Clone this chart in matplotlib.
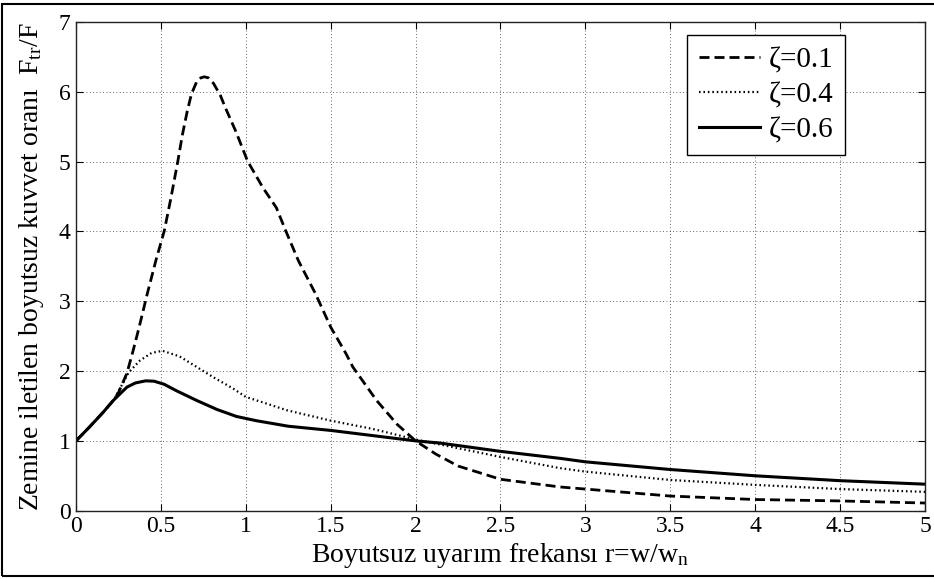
import matplotlib
matplotlib.use("Agg")
import matplotlib.pyplot as plt
from matplotlib.patches import Rectangle

# ---- data ----
x_01 = [0, 0.08, 0.16, 0.22, 0.25, 0.30, 0.335, 0.372, 0.42, 0.47, 0.52, 0.56, 0.60, 0.627,
        0.655, 0.68, 0.71, 0.735, 0.755, 0.78, 0.81, 0.85, 0.88, 0.94, 1.01, 1.10, 1.18, 1.235, 1.31,
        1.41, 1.5, 1.59, 1.63, 1.77, 1.89, 2.0, 2.12, 2.25, 2.5, 2.85, 3.0, 3.5, 4.0, 4.5, 5.0]
y_01 = [1.0, 1.20, 1.41, 1.58, 1.69, 1.97, 2.28, 2.63, 3.11, 3.58, 4.01, 4.49, 5.01, 5.39,
        5.72, 5.97, 6.14, 6.20, 6.215, 6.20, 6.12, 5.95, 5.77, 5.44, 5.01, 4.63, 4.34, 4.01, 3.58,
        3.11, 2.63, 2.25, 2.06, 1.58, 1.24, 1.0, 0.81, 0.64, 0.45, 0.34, 0.31, 0.21, 0.16, 0.14, 0.11]

x_04 = [0, 0.08, 0.16, 0.22, 0.27, 0.31, 0.376, 0.445, 0.51, 0.61, 0.71, 0.81, 0.925,
        1.0, 1.14, 1.24, 1.5, 1.75, 2.0, 2.5, 2.85, 3.0, 3.5, 4.0, 4.5, 5.0]
y_04 = [1.0, 1.20, 1.41, 1.58, 1.80, 1.98, 2.15, 2.26, 2.29, 2.21, 2.06, 1.91, 1.75,
        1.63, 1.52, 1.44, 1.29, 1.17, 1.02, 0.77, 0.61, 0.56, 0.44, 0.37, 0.31, 0.27]

x_06 = [0, 0.08, 0.16, 0.22, 0.30, 0.35, 0.41, 0.46, 0.52, 0.59, 0.71, 0.83, 0.945, 1.06,
        1.25, 1.5, 2.0, 2.14, 2.5, 2.85, 3.0, 3.5, 4.0, 4.5, 5.0]
y_06 = [1.0, 1.20, 1.41, 1.58, 1.77, 1.83, 1.86, 1.855, 1.81, 1.72, 1.58, 1.45, 1.35, 1.29,
        1.21, 1.15, 1.0, 0.97, 0.85, 0.75, 0.70, 0.59, 0.50, 0.43, 0.38]

labels = ["ζ=0.1", "ζ=0.4", "ζ=0.6"]
x_ticks = [0, 0.5, 1, 1.5, 2, 2.5, 3, 3.5, 4, 4.5, 5]
x_ticklabels = ["0", "0.5", "1", "1.5", "2", "2.5", "3", "3.5", "4", "4.5", "5"]
y_ticks = [0, 1, 2, 3, 4, 5, 6, 7]
xlabel = "Boyutsuz uyarım frekansı r=w/$\\mathrm{w_n}$"
ylabel = "Zemine iletilen boyutsuz kuvvet oranı  $\\mathrm{F_{tr}/F}$"

plt.rcParams["font.family"] = ["Liberation Serif", "DejaVu Serif"]
plt.rcParams["mathtext.fontset"] = "custom"
plt.rcParams["mathtext.rm"] = "Liberation Serif"
plt.rcParams["mathtext.it"] = "Liberation Serif:italic"

fig = plt.figure(figsize=(9.34, 5.79), dpi=100)
ax = fig.add_axes([76 / 934, (579 - 510.7) / 579, 849 / 934, 488.7 / 579])

ax.plot(x_01, y_01, color="black", lw=2.0, linestyle=(0, (3.6, 1.8)), label=labels[0])
ax.plot(x_04, y_04, color="black", lw=1.6, linestyle=(0, (0.7, 1.3)), label=labels[1])
ax.plot(x_06, y_06, color="black", lw=2.2, linestyle="-", label=labels[2])

ax.set_xlim(0, 5)
ax.set_ylim(0, 7)
ax.set_xticks(x_ticks)
ax.set_xticklabels(x_ticklabels)
ax.set_yticks(y_ticks)
ax.tick_params(direction="in", top=True, right=True, length=5, width=0.8,
               labelsize=17, pad=4)
ax.grid(True, color="#333333", lw=0.6, linestyle=(0, (1, 3)))
for s in ax.spines.values():
    s.set_linewidth(1.0)
    s.set_color("#222222")

ax.set_xlabel(xlabel, fontsize=20, labelpad=3)
ax.set_ylabel(ylabel, fontsize=20, labelpad=9)

leg = ax.legend(loc="upper left", bbox_to_anchor=(0.72, 0.973), fontsize=21,
                frameon=True, fancybox=False, framealpha=1, edgecolor="black",
                handlelength=2.1, handletextpad=0.3, borderpad=0.4,
                labelspacing=0.3, borderaxespad=0)
leg.get_frame().set_linewidth(1.0)

fig.patches.append(Rectangle((2 / 934, 3 / 579), 940 / 934, 572 / 579,
                             transform=fig.transFigure, fill=False,
                             edgecolor="black", lw=1.5))

fig.savefig("out.png", dpi=100)
